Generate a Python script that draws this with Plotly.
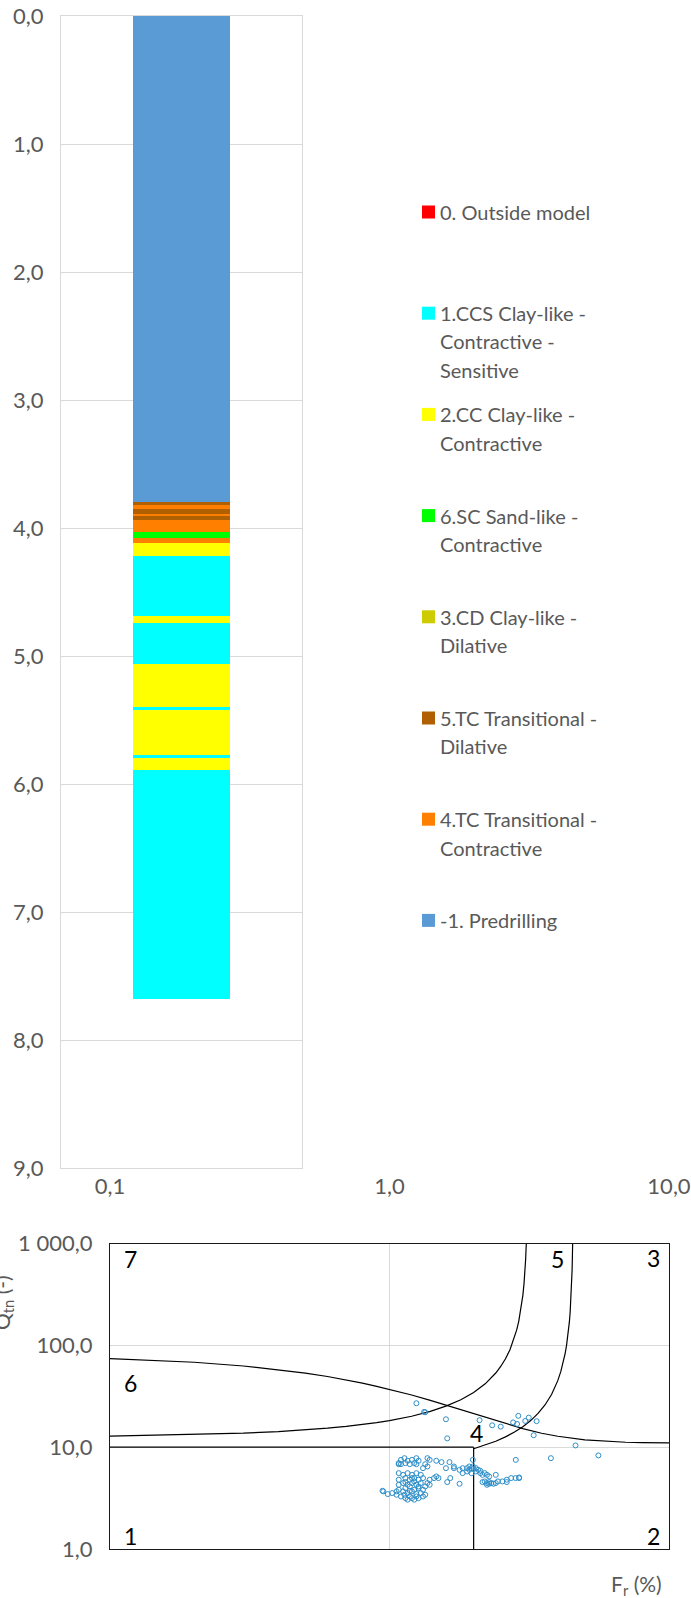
import plotly.graph_objects as go

W, H = 691, 1598
FONT = "Lato, 'Open Sans', sans-serif"
GREY_TXT = "#595959"
GRID = "#d9d9d9"

# ---------------- soil behaviour log (depth in m) ----------------
layer_top = [0.00, 3.80, 3.82, 3.85, 3.89, 3.91, 3.94, 4.03, 4.08, 4.12,
             4.22, 4.69, 4.74, 5.06, 5.40, 5.42, 5.77, 5.80, 5.89]
layer_bottom = [3.80, 3.82, 3.85, 3.89, 3.91, 3.94, 4.03, 4.08, 4.12, 4.22,
                4.69, 4.74, 5.06, 5.40, 5.42, 5.77, 5.80, 5.89, 7.68]
layer_class = ["-1", "5", "4", "5", "4", "5", "4", "6", "4", "2",
               "1", "2", "1", "2", "1", "2", "1", "2", "1"]

class_colors = {
    "0": "#FF0000", "1": "#00FFFF", "2": "#FFFF00", "6": "#00FF00",
    "3": "#CCCC00", "5": "#B06000", "4": "#FF8000", "-1": "#5B9BD5",
}
legend_codes = ["0", "1", "2", "6", "3", "5", "4", "-1"]
legend_lines = [
    ["0. Outside model"],
    ["1.CCS Clay-like -", "Contractive -", "Sensitive"],
    ["2.CC Clay-like -", "Contractive"],
    ["6.SC Sand-like -", "Contractive"],
    ["3.CD Clay-like -", "Dilative"],
    ["5.TC Transitional -", "Dilative"],
    ["4.TC Transitional -", "Contractive"],
    ["-1. Predrilling"],
]
depth_ticks = [0, 1, 2, 3, 4, 5, 6, 7, 8, 9]
depth_ticktext = ["0,0", "1,0", "2,0", "3,0", "4,0", "5,0", "6,0", "7,0", "8,0", "9,0"]

# ---------------- Qtn - Fr chart ----------------
fr_ticks = [0.1, 1, 10]
fr_ticktext = ["0,1", "1,0", "10,0"]
q_ticks = [1, 10, 100, 1000]
q_ticktext = ["1,0", "10,0", "100,0", "1 000,0"]

# measured points
fr_meas = [
    1.248, 1.342, 1.330, 1.592, 1.609, 2.10, 2.33, 2.50, 2.77, 2.86, 2.89, 3.06, 3.15, 3.36, 3.28,
    4.63, 3.78, 5.59, 2.83,
    1.099, 1.131, 1.161, 1.203, 1.248, 1.271, 1.367, 1.392, 1.470, 1.535, 1.639, 1.987,
    1.079, 1.099, 1.140, 1.182, 1.226, 1.248, 1.342,
    1.079, 1.079, 1.079, 1.079, 1.079,
    1.119, 1.161, 1.203, 1.248, 1.294, 1.140, 1.182, 1.226, 1.271, 1.318,
    1.119, 1.161, 1.203, 1.248, 1.294, 1.342, 1.140, 1.182, 1.226, 1.271, 1.318,
    1.119, 1.161, 1.203, 1.248, 1.294, 1.342, 1.099, 1.140, 1.182, 1.226, 1.271, 1.318,
    1.161, 1.203, 1.248, 1.131, 1.182, 1.226, 1.271, 1.203, 1.140,
    0.944, 0.950, 0.986, 1.022, 1.060, 1.060,
    1.392, 1.443, 1.470, 1.497, 1.367, 1.392, 1.609, 1.650, 1.592, 1.700, 1.781, 1.318, 1.367,
    1.700, 1.781, 1.827, 1.895, 1.930, 1.965, 2.038, 2.075, 2.113, 1.930, 1.987, 2.000,
    1.895, 1.965, 2.038, 2.113, 2.152, 2.192, 2.232, 2.273, 2.400, 1.827,
    2.192, 2.232, 2.273, 2.315, 2.356, 2.400, 2.443, 2.534, 2.628, 2.725, 2.826, 2.909,
    2.909, 2.232, 2.273, 2.152, 2.628,
]
qtn_meas = [
    27.0, 22.0, 22.2, 18.8, 12.2, 18.4, 16.4, 15.9, 17.5, 16.9, 20.3, 18.1, 19.5, 18.0, 13.1,
    10.4, 7.8, 8.3, 7.5,
    7.51, 7.80, 7.35, 7.51, 7.80, 7.35, 7.80, 7.51, 7.35, 7.13, 7.13, 7.51,
    6.97, 6.81, 6.97, 6.81, 6.97, 6.81, 6.81,
    6.81, 5.56, 4.79, 4.27, 3.82,
    5.35, 5.56, 5.35, 5.56, 5.35, 4.97, 4.79, 4.97, 4.79, 4.97,
    4.44, 4.27, 4.44, 4.27, 4.44, 4.11, 3.96, 4.11, 3.82, 3.96, 3.82,
    3.68, 3.54, 3.68, 3.46, 3.54, 3.41, 3.28, 3.16, 3.28, 3.05, 3.16, 3.28,
    3.05, 3.16, 3.28, 3.41, 3.73, 4.61, 4.11, 4.97, 4.54,
    3.73, 3.68, 3.46, 3.54, 3.41, 3.68,
    4.79, 4.97, 5.16, 4.97, 4.44, 4.27, 4.54, 4.97, 6.22, 6.46, 4.37, 6.22, 6.46,
    6.22, 5.99, 6.22, 6.22, 5.99, 6.22, 6.22, 5.99, 5.86, 6.46, 6.46, 6.10,
    5.77, 5.56, 5.77, 5.56, 5.35, 5.56, 5.35, 5.16, 5.35, 5.56,
    4.61, 4.44, 4.37, 4.44, 4.37, 4.44, 4.61, 4.61, 4.79, 4.97, 4.97, 4.97,
    5.04, 4.27, 4.54, 4.54, 4.54,
]

# zone boundaries
cd70_fr = [0.1, 0.2, 0.3, 0.4, 0.5, 0.6, 0.7, 0.8, 0.9, 1.0, 1.2, 1.4, 1.6, 1.8,
           2.0, 2.5, 3.0, 3.5, 4.0, 5.0, 6.0, 7.0, 8.0, 10.0]
cd70_q = [74.2, 68.2, 62.7, 57.8, 53.4, 49.4, 45.8, 42.5, 39.6, 37.0, 32.5, 28.8, 25.7, 23.2,
          21.2, 17.5, 15.2, 13.7, 12.8, 11.8, 11.4, 11.18, 11.09, 11.02]
ib32_fr = [0.1, 0.2, 0.3, 0.4, 0.5, 0.6, 0.7, 0.8, 0.9, 1.0, 1.2, 1.4, 1.6, 1.8, 2.0, 2.2,
           2.4, 2.5, 2.6, 2.7, 2.8, 2.85, 2.9, 2.95, 3.0, 3.03, 3.05, 3.07, 3.0862]
ib32_q = [12.81, 13.25, 13.72, 14.22, 14.76, 15.35, 15.98, 16.67, 17.42, 18.24, 20.13, 22.46,
          25.41, 29.25, 34.44, 41.89, 53.45, 62.0, 73.81, 91.18, 119.2, 140.9, 172.2, 221.4,
          310.0, 407.9, 516.7, 704.5, 1000.0]
ib22_fr = [2.0, 2.2, 2.4, 2.6, 2.8, 3.0, 3.2, 3.4, 3.6, 3.8, 3.9, 4.0, 4.1, 4.2, 4.25, 4.3,
           4.35, 4.4, 4.43, 4.46, 4.48, 4.5, 4.51, 4.5209]
ib22_q = [9.64, 10.47, 11.44, 12.62, 14.06, 15.88, 18.24, 21.43, 25.96, 32.93, 38.03, 45.0,
          55.1, 71.05, 83.08, 100.0, 125.6, 168.75, 212.6, 287.2, 375.0, 540.0, 692.3, 1000.0]
q10_fr = [0.1, 2.0]
q10_q = [10.0, 10.0]
fr2_fr = [2.0, 2.0]
fr2_q = [1.0, 10.0]

zone_labels = ["7", "5", "3", "6", "4", "1", "2"]


def px(x):
    return x / W


def py(y):
    return 1 - y / H


fig = go.Figure()

# depth log bars
for top, bot, cls in zip(layer_top, layer_bottom, layer_class):
    fig.add_trace(go.Bar(
        x=[0.5], y=[bot - top], base=[top], width=0.4025,
        marker=dict(color=class_colors[cls], line=dict(width=0)),
        xaxis="x", yaxis="y", showlegend=False, hoverinfo="skip",
    ))

# boundaries
for bx, by in [(q10_fr, q10_q), (fr2_fr, fr2_q), (cd70_fr, cd70_q),
               (ib32_fr, ib32_q), (ib22_fr, ib22_q)]:
    fig.add_trace(go.Scatter(
        x=bx, y=by, mode="lines", line=dict(color="black", width=1.2),
        xaxis="x2", yaxis="y2", showlegend=False, hoverinfo="skip",
    ))

fig.add_trace(go.Scatter(
    x=fr_meas, y=qtn_meas, mode="markers",
    marker=dict(symbol="circle-open", size=5, color="#2E8FC9", line=dict(width=1)),
    xaxis="x2", yaxis="y2", showlegend=False,
))

annotations = []
shapes = []

# legend
row0 = 212.0
row_step = 101.2
line_step = 28.3
for i, (code, lines) in enumerate(zip(legend_codes, legend_lines)):
    yc = row0 + i * row_step
    shapes.append(dict(type="rect", xref="paper", yref="paper",
                       x0=px(422), x1=px(435), y0=py(yc + 6.5), y1=py(yc - 6.5),
                       fillcolor=class_colors[code], line=dict(width=0)))
    for j, txt in enumerate(lines):
        annotations.append(dict(
            text=txt, xref="paper", yref="paper", x=px(438), y=py(yc + j * line_step),
            xanchor="left", yanchor="middle", showarrow=False,
            font=dict(family=FONT, size=20, color=GREY_TXT),
        ))

# zone numbers (positions in axis-domain fractions)
zone_pos = [
    (0.021, 0.949, "left"), (0.816, 0.949, "right"), (0.9875, 0.952, "right"),
    (0.021, 0.543, "left"), (0.6565, 0.380, "center"), (0.021, 0.0425, "left"),
    (0.9875, 0.0425, "right"),
]
for lab, (zx, zy, anc) in zip(zone_labels, zone_pos):
    annotations.append(dict(
        text=lab, xref="x2 domain", yref="y2 domain", x=zx, y=zy,
        xanchor=anc, yanchor="middle", showarrow=False,
        font=dict(family=FONT, size=23, color="black"),
    ))

# axis titles of the Qtn - Fr chart
annotations.append(dict(
    text="F<sub>r</sub> (%)", xref="paper", yref="paper", x=px(636), y=py(1585),
    xanchor="center", yanchor="middle", showarrow=False,
    font=dict(family=FONT, size=21, color=GREY_TXT),
))
annotations.append(dict(
    text="Q<sub>tn</sub> (-)", xref="paper", yref="paper", x=px(3), y=py(1303),
    xanchor="center", yanchor="middle", showarrow=False, textangle=-90,
    font=dict(family=FONT, size=21, color=GREY_TXT),
))

tickfont = dict(family=FONT, size=22, color=GREY_TXT)

fig.update_layout(
    width=W, height=H, margin=dict(l=0, r=0, t=0, b=0, autoexpand=False),
    paper_bgcolor="white", plot_bgcolor="white",
    barmode="overlay", bargap=0,
    showlegend=False,
    xaxis=dict(domain=[px(61), px(302)], range=[0, 1], anchor="y",
               showticklabels=False, showgrid=False, zeroline=False, ticks="",
               showline=True, mirror=True, linecolor=GRID, linewidth=1, fixedrange=True),
    yaxis=dict(domain=[py(1168), py(16)], range=[9, 0], anchor="x",
               tickvals=depth_ticks, ticktext=depth_ticktext, tickfont=tickfont,
               showgrid=True, gridcolor=GRID, gridwidth=1, zeroline=False, ticks="",
               ticklabelstandoff=12,
               showline=True, mirror=True, linecolor=GRID, linewidth=1),
    xaxis2=dict(domain=[px(110), px(669)], type="log", range=[-1, 1], anchor="y2",
                side="top", tickvals=fr_ticks, ticktext=fr_ticktext, tickfont=tickfont,
                showgrid=True, gridcolor=GRID, gridwidth=1, zeroline=False, ticks="",
                ticklabelstandoff=40,
                showline=True, mirror=True, linecolor="#1a1a1a", linewidth=1.2),
    yaxis2=dict(domain=[py(1549), py(1243.5)], type="log", range=[0, 3], anchor="x2",
                tickvals=q_ticks, ticktext=q_ticktext, tickfont=tickfont,
                showgrid=True, gridcolor=GRID, gridwidth=1, zeroline=False, ticks="",
                ticklabelstandoff=12,
                showline=True, mirror=True, linecolor="#1a1a1a", linewidth=1.2),
    annotations=annotations,
    shapes=shapes,
)

fig.write_html("out.html")
